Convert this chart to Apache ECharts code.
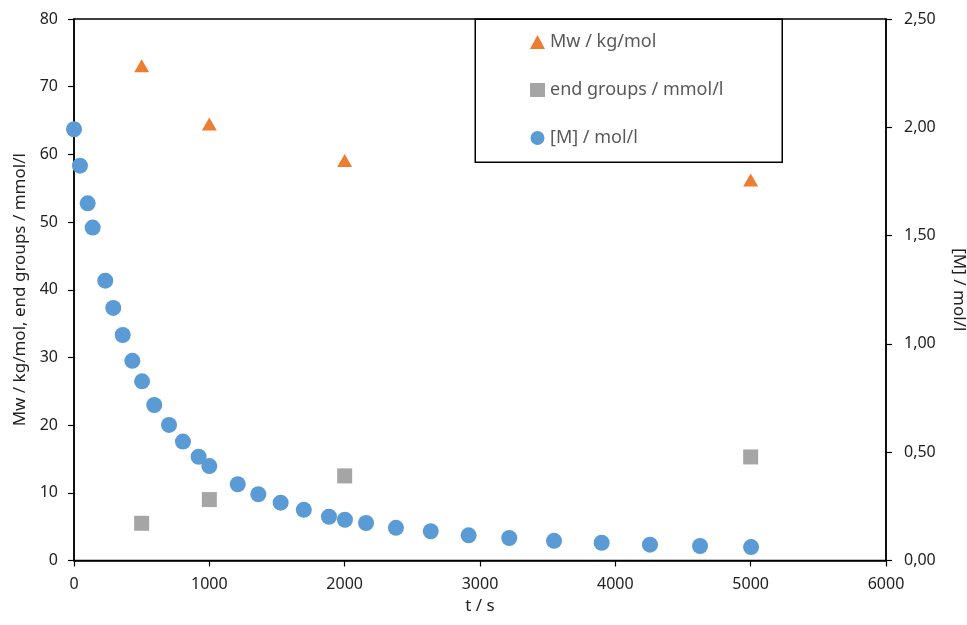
<!DOCTYPE html>
<html>
<head>
<meta charset="utf-8">
<script src="https://cdn.jsdelivr.net/npm/echarts@6/dist/echarts.min.js"></script>
<style>html,body{margin:0;padding:0;background:#fff;}#c{width:967px;height:625px;}</style>
</head>
<body>
<div id="c"></div>
<script>
const mwT = [500, 1000, 2000, 5000];
const mwVal = [73.1, 64.5, 59.1, 56.2];
const endT = [500, 1000, 2000, 5000];
const endVal = [5.5, 9.0, 12.5, 15.3];
const mT = [0, 44, 101, 138, 231, 290, 360, 431, 503, 593, 702, 805, 921, 1000, 1210, 1362, 1527, 1698, 1884, 2002, 2158, 2379, 2636, 2916, 3216, 3547, 3899, 4256, 4626, 5003];
const mVal = [1.991, 1.823, 1.649, 1.537, 1.292, 1.166, 1.041, 0.922, 0.827, 0.718, 0.626, 0.549, 0.479, 0.436, 0.352, 0.306, 0.267, 0.234, 0.202, 0.188, 0.173, 0.151, 0.135, 0.116, 0.104, 0.091, 0.082, 0.073, 0.067, 0.062];
const names = ['Mw / kg/mol', 'end groups / mmol/l', '[M] / mol/l'];

const zip = (a, b) => a.map((v, i) => [v, b[i]]);
const font = 'Noto Sans';
const chart = echarts.init(document.getElementById('c'));
const axisCommon = {
  axisLine: { show: true, lineStyle: { color: '#000', width: 1.5 } },
  axisTick: { show: true, length: 6, lineStyle: { color: '#000', width: 1.2 } },
  splitLine: { show: false },
  axisLabel: { color: '#222', fontSize: 16, fontFamily: font },
  nameTextStyle: { color: '#222', fontSize: 17, fontFamily: font }
};
chart.setOption({
  animation: false,
  grid: { left: 74, right: 81, top: 19, bottom: 64.5, show: true, borderColor: '#000', borderWidth: 1.5,
          containLabel: false, outerBoundsMode: 'none' },
  graphic: [{
    type: 'rect', left: 474.5, top: 18.5,
    shape: { width: 307, height: 143 },
    style: { fill: '#fff', stroke: '#000', lineWidth: 1.5 }, z: 100
  }],
  legend: {
    orient: 'vertical', left: 530, top: 33, padding: 0, itemGap: 30,
    itemWidth: 15, itemHeight: 14, z: 101,
    textStyle: { color: '#595959', fontSize: 18, fontFamily: font, lineHeight: 14 },
    data: names
  },
  xAxis: Object.assign({}, axisCommon, {
    type: 'value', min: 0, max: 6000, interval: 1000,
    name: 't / s', nameLocation: 'middle', nameGap: 37,
    axisLabel: Object.assign({}, axisCommon.axisLabel, { margin: 16, formatter: v => String(v) })
  }),
  yAxis: [
    Object.assign({}, axisCommon, {
      type: 'value', min: 0, max: 80, interval: 10,
      name: 'Mw / kg/mol, end groups / mmol/l', nameLocation: 'middle', nameGap: 43,
      axisLabel: Object.assign({}, axisCommon.axisLabel, { margin: 16 })
    }),
    Object.assign({}, axisCommon, {
      type: 'value', min: 0, max: 2.5, interval: 0.5, position: 'right',
      name: '[M] / mol/l', nameLocation: 'middle', nameGap: 64, nameRotate: 270,
      axisLabel: Object.assign({}, axisCommon.axisLabel, { margin: 18, formatter: v => v.toFixed(2).replace('.', ',') })
    })
  ],
  series: [
    { name: names[0], type: 'scatter', yAxisIndex: 0, symbol: 'triangle', symbolSize: [15, 13],
      itemStyle: { color: '#ED7D31', opacity: 1 }, data: zip(mwT, mwVal) },
    { name: names[1], type: 'scatter', yAxisIndex: 0, symbol: 'rect', symbolSize: 15,
      itemStyle: { color: '#A5A5A5', opacity: 1 }, data: zip(endT, endVal) },
    { name: names[2], type: 'scatter', yAxisIndex: 1, symbol: 'circle', symbolSize: 16,
      itemStyle: { color: '#5B9BD5', opacity: 1 }, data: zip(mT, mVal) }
  ]
});
</script>
</body>
</html>
